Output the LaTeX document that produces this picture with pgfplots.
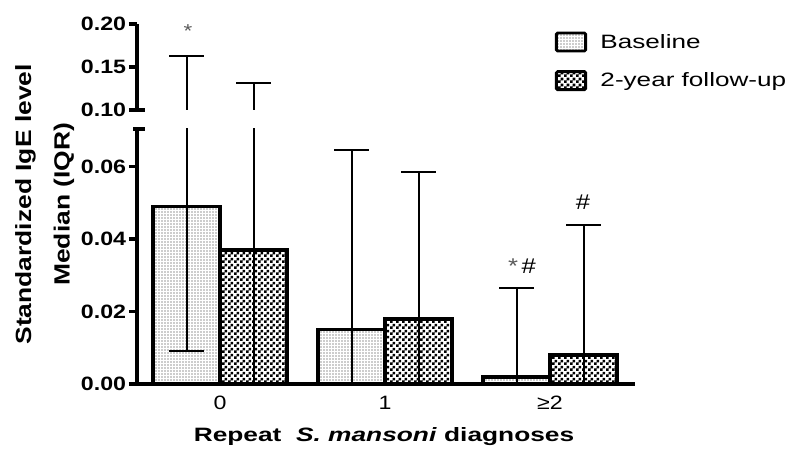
\documentclass[border=0pt]{standalone}
\usepackage{fontspec}
\setmainfont{Liberation Sans}[FakeStretch=1.2]
\newfontfamily\legfont{Liberation Sans}[FakeStretch=1.35]
\newfontfamily\xlabfont{Liberation Sans}[FakeStretch=1.36]
\usepackage{pgfplots}
\pgfplotsset{compat=1.18}
\usepackage{pgfplotstable}
\usetikzlibrary{patterns,patterns.meta}

\pgfdeclarepatternformonly{checker}{\pgfpointorigin}{\pgfpoint{4.5pt}{4.5pt}}{\pgfpoint{4.5pt}{4.5pt}}{%
  \pgfpathrectangle{\pgfpointorigin}{\pgfpoint{2.25pt}{2.25pt}}%
  \pgfpathrectangle{\pgfpoint{2.25pt}{2.25pt}}{\pgfpoint{2.25pt}{2.25pt}}%
  \pgfusepath{fill}}

\pgfplotstableread{
x y ep em
0 0.049 0.114 0.040
1 0.015 0.0495 0.015
2 0.002 0.0245 0.002
}\tabBase
\pgfplotstableread{
x y ep em
0 0.037 0.094 0.037
1 0.018 0.0405 0.018
2 0.008 0.036 0.008
}\tabFollow

\pgfplotsset{
  mybase/.style={
    scale only axis, width=373.5pt, xmin=-0.503, xmax=2.515,
    ybar=0pt, bar width=50.25pt,
    axis y line*=left, axis on top,
    axis line style={line width=3pt, black},
    ytick style={line width=2.5pt, black},
    tick align=outside, major tick length=6pt,
    scaled y ticks=false,
    yticklabel style={font=\bfseries\fontsize{14.5}{16}\selectfont, inner sep=2pt},
    /pgf/number format/fixed, /pgf/number format/fixed zerofill,
    /pgf/number format/precision=2, /pgf/number format/assume math mode=true,
  },
  errstyle/.style={
    /pgfplots/error bars/y dir=both, /pgfplots/error bars/y explicit,
    /pgfplots/error bars/error bar style={draw=black, line width=1.5pt},
    /pgfplots/error bars/error mark options={rotate=90, draw=black, line width=1.5pt, mark size=13pt}},
  basebar/.style={draw=black, line width=2.7pt, pattern={Dots[distance=2.25pt, radius=0.45pt]}, pattern color=black!85, errstyle},
  followbar/.style={draw=black, line width=2.7pt, pattern=checker, errstyle},
  upperbar/.style={draw=none, fill=none, errstyle},
  boxlegend/.style={/pgfplots/legend image code/.code={\draw[##1, line width=2.2pt, rounded corners=1pt] (0pt,-6.75pt) rectangle (22pt,6.75pt);}},
}

\begin{document}
\begin{tikzpicture}
\path[use as bounding box] (0,0) rectangle (600pt,350.25pt);
% lower segment
\begin{axis}[mybase, at={(102.75pt,62.25pt)}, anchor=south west, height=191.25pt,
  ymin=0, ymax=0.0704, axis x line*=bottom,
  ytick={0,0.02,0.04,0.06},
  xtick={0,1,2}, xticklabels={0,1,≥2}, xtick style={draw=none},
  xticklabel style={font=\fontsize{14.5}{16}\selectfont, anchor=base, yshift=-13.5pt},
  legend style={at={(0.8386,1.384)}, anchor=north west, draw=none, fill=none,
    font=\legfont\fontsize{14.5}{16}\selectfont, row sep=13pt, inner sep=0pt,
    /tikz/every odd column/.append style={column sep=8pt}},
  legend cell align=left,
]
\addplot+[basebar, boxlegend] table[x=x, y=y, y error plus=ep, y error minus=em] {\tabBase};
\addplot+[followbar, boxlegend] table[x=x, y=y, y error plus=ep, y error minus=em] {\tabFollow};
\legend{Baseline, 2-year follow-up}
\end{axis}
% upper segment
\begin{axis}[mybase, at={(102.75pt,267.75pt)}, anchor=south west, height=64.5pt,
  ymin=0.10, ymax=0.20, axis x line=none,
  ytick={0.10,0.15,0.20},
]
\addplot+[upperbar] table[x=x, y=y, y error plus=ep, y error minus=em] {\tabBase};
\addplot+[upperbar] table[x=x, y=y, y error plus=ep, y error minus=em] {\tabFollow};
\end{axis}
% break marks
\draw[line width=3pt] (99.75pt,253.5pt) -- (108.75pt,253.5pt);
\draw[line width=2.5pt] (100pt,267.75pt) -- (108.75pt,267.75pt);
% annotations
\node[text=black!65, font=\fontsize{14}{16}\selectfont] at (141pt,327pt) {*};
\node[font=\fontsize{16}{18}\selectfont] at (391.5pt,150.75pt) {\textcolor{black!65}{*}\,\#};
\node[font=\fontsize{16}{18}\selectfont] at (437.25pt,198.75pt) {\#};
% axis titles
\node[rotate=90, align=center, font=\bfseries\fontsize{16.5}{24}\selectfont] at (33.5pt,197pt) {Standardized IgE level\\[5pt]Median (IQR)};
\node[anchor=base, font=\xlabfont\bfseries\fontsize{14.5}{16}\selectfont] at (288pt,19pt) {Repeat\ \ \textit{S. mansoni} diagnoses};
\end{tikzpicture}
\end{document}
